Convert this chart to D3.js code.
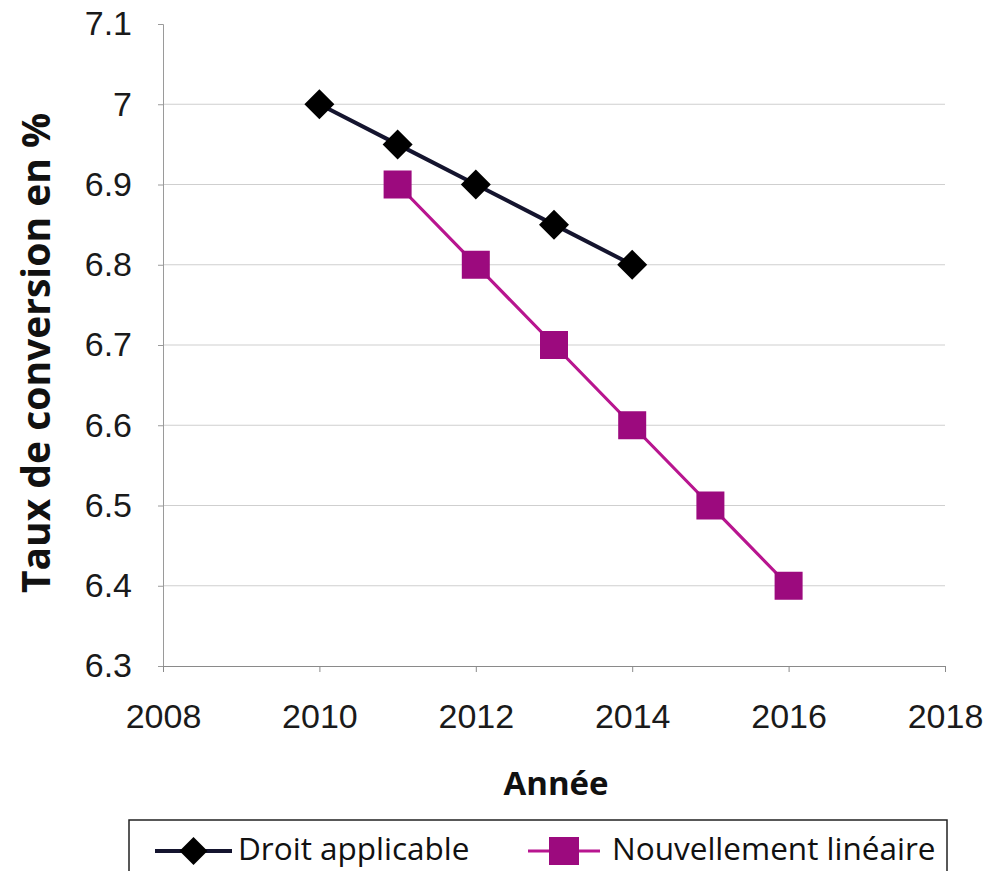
<!DOCTYPE html>
<html><head><meta charset="utf-8">
<script src="https://cdn.jsdelivr.net/npm/d3@7"></script>
<style>body{margin:0;background:#fff}</style>
</head><body>
<svg id="c" width="990" height="871"></svg>
<script>
const years1 = [2010, 2011, 2012, 2013, 2014];
const droit = [7.0, 6.95, 6.9, 6.85, 6.8];
const years2 = [2011, 2012, 2013, 2014, 2015, 2016];
const nouv = [6.9, 6.8, 6.7, 6.6, 6.5, 6.4];
const xTicks = [2008, 2010, 2012, 2014, 2016, 2018];
const yTicks = [6.3, 6.4, 6.5, 6.6, 6.7, 6.8, 6.9, 7.0, 7.1];
const seriesNames = ["Droit applicable", "Nouvellement linéaire"];

const svg = d3.select("#c");
const x = d3.scaleLinear().domain([2008, 2018]).range([163, 945]);
const y = d3.scaleLinear().domain([6.3, 7.1]).range([666, 24]);

// gridlines
svg.append("g").selectAll("line").data(yTicks.filter(v => v > 6.3 && v < 7.1)).join("line")
  .attr("x1", x(2008)).attr("x2", x(2018))
  .attr("y1", d => y(d)).attr("y2", d => y(d))
  .attr("stroke", "#cfcfcf").attr("stroke-width", 1.2);

// y axis
const yAxis = d3.axisLeft(y).tickValues(yTicks).tickSize(5).tickPadding(26)
  .tickFormat(d => d === 7 ? "7" : d3.format(".1f")(d));
const gy = svg.append("g").attr("transform", `translate(${x(2008)},0)`).call(yAxis);
gy.select(".domain").attr("stroke", "#9a9a9a");
gy.selectAll(".tick line").attr("stroke", "#9a9a9a");
gy.selectAll(".tick text").attr("font-family", "Liberation Sans, Arial, sans-serif")
  .attr("font-size", 34).attr("fill", "#1a1a1a");

// x axis
const xAxis = d3.axisBottom(x).tickValues(xTicks).tickSize(6).tickPadding(32).tickFormat(d3.format("d"));
const gx = svg.append("g").attr("transform", `translate(0,${y(6.3)})`).call(xAxis);
gx.select(".domain").attr("stroke", "#8a8a8a");
gx.selectAll(".tick line").attr("stroke", "#8a8a8a");
gx.selectAll(".tick text").attr("font-family", "Liberation Sans, Arial, sans-serif")
  .attr("font-size", 34).attr("fill", "#1a1a1a").attr("dy", "0.71em");

// axis titles
svg.append("text").attr("transform", `translate(50,${(y(7.0)+y(6.4))/2 + 8}) rotate(-90)`)
  .attr("text-anchor", "middle").attr("font-family", "Open Sans, sans-serif")
  .attr("font-weight", "bold").attr("font-size", 39).attr("fill", "#111")
  .text("Taux de conversion en %");
svg.append("text").attr("x", 556).attr("y", 795).attr("text-anchor", "middle")
  .attr("font-family", "Open Sans, sans-serif").attr("font-weight", "bold")
  .attr("font-size", 33).attr("fill", "#111").text("Année");

const c1 = "#14142e", c2 = "#b8158f", m2 = "#9c0a7e";
const line = d3.line().x(d => x(d[0])).y(d => y(d[1]));
const d1 = years1.map((v, i) => [v, droit[i]]);
const d2 = years2.map((v, i) => [v, nouv[i]]);

svg.append("path").datum(d2).attr("d", line).attr("fill", "none").attr("stroke", c2).attr("stroke-width", 3.2);
svg.append("g").selectAll("rect").data(d2).join("rect")
  .attr("x", d => x(d[0]) - 14).attr("y", d => y(d[1]) - 14).attr("width", 28).attr("height", 28).attr("fill", m2);

svg.append("path").datum(d1).attr("d", line).attr("fill", "none").attr("stroke", c1).attr("stroke-width", 4);
const diamond = (cx, cy, r) => `M${cx},${cy - r}L${cx + r},${cy}L${cx},${cy + r}L${cx - r},${cy}Z`;
svg.append("g").selectAll("path").data(d1).join("path")
  .attr("d", d => diamond(x(d[0]), y(d[1]), 15)).attr("fill", "#000");

// legend
const lg = svg.append("g");
lg.append("rect").attr("x", 129).attr("y", 820).attr("width", 818).attr("height", 70)
  .attr("fill", "#fff").attr("stroke", "#222").attr("stroke-width", 1.5);
const items = [
  {name: seriesNames[0], x0: 155, x1: 232, tx: 238, col: c1, sw: 4, mark: "d"},
  {name: seriesNames[1], x0: 528, x1: 600, tx: 612, col: c2, sw: 3.2, mark: "s"}
];
items.forEach(it => {
  lg.append("line").attr("x1", it.x0).attr("x2", it.x1).attr("y1", 851).attr("y2", 851)
    .attr("stroke", it.col).attr("stroke-width", it.sw);
  const mx = (it.x0 + it.x1) / 2;
  if (it.mark === "d") lg.append("path").attr("d", diamond(mx, 851, 14)).attr("fill", "#000");
  else lg.append("rect").attr("x", mx - 15).attr("y", 837).attr("width", 30).attr("height", 28).attr("fill", m2);
  lg.append("text").attr("x", it.tx).attr("y", 860).attr("font-family", "Open Sans, sans-serif")
    .attr("font-size", 31.5).attr("fill", "#111").text(it.name);
});
</script>
</body></html>
